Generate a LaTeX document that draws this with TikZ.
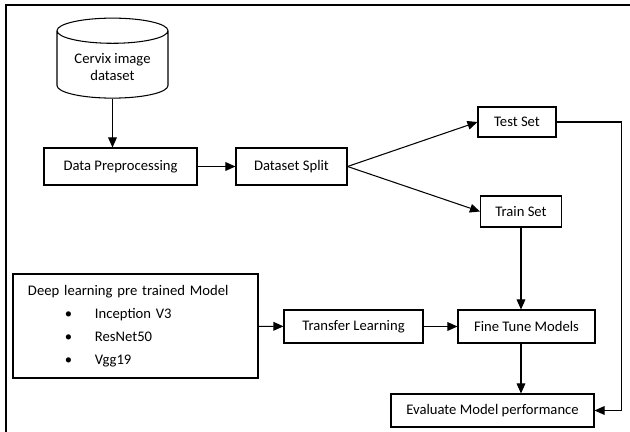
\documentclass[tikz,border=0pt]{standalone}
\usepackage{fontspec}
\setmainfont{Carlito}
\usepackage{tikz}
\usetikzlibrary{arrows.meta}
\usetikzlibrary{shapes.geometric}
\usetikzlibrary{positioning}

\begin{document}
\begin{tikzpicture}[x=0.03cm,y=-0.03cm,
  every node/.style={font=\fontsize{12.5}{15}\selectfont},
  box/.style={draw,line width=0.9pt,inner sep=2pt},
  flow/.style={line width=0.9pt,-{Triangle[length=3mm,width=2.6mm]}}]
  \useasboundingbox (0,0) rectangle (630,432);
  \draw[line width=2pt] (6,432)--(6,5)--(630,5);

  \node (db) at (112.5,67) [draw,line width=0.9pt,cylinder,shape border rotate=90,aspect=0.3,
    minimum width=3.33cm,minimum height=2.4cm,align=center]{Cervix image\\dataset};
  \node (prep) at (120.5,166.5) [box,minimum width=4.59cm,minimum height=1.11cm]{Data Preprocessing};
  \node (split) at (291.5,166.5) [box,minimum width=3.33cm,minimum height=1.11cm]{Dataset Split};
  \node (test) at (517,122) [box,minimum width=2.34cm,minimum height=0.9cm]{Test Set};
  \node (train) at (521,211.5) [box,minimum width=2.43cm,minimum height=0.93cm]{Train Set};
  \node (dl) at (135.5,326) [box,inner xsep=0.45cm,text width=6.45cm,minimum height=3.12cm,align=left,
    font=\fontsize{12.5}{19.6}\selectfont]{Deep learning pre trained Model\\
    \hspace*{1.11cm}\makebox[0.9cm][l]{\textbullet}Inception V3\\
    \hspace*{1.11cm}\makebox[0.9cm][l]{\textbullet}ResNet50\\
    \hspace*{1.11cm}\makebox[0.9cm][l]{\textbullet}Vgg19};
  \node (tl) at (353.5,326.5) [box,minimum width=4.17cm,minimum height=0.99cm]{Transfer Learning};
  \node (fine) at (526.5,326.5) [box,minimum width=4.11cm,minimum height=0.99cm]{Fine Tune Models};
  \node (eval) at (492.5,410.5) [box,minimum width=6.09cm,minimum height=0.99cm]{Evaluate Model performance};

  \draw[flow](db)--(db |- prep.north);
  \draw[flow](prep)--(split);
  \draw[flow](split.east)--(test.west);
  \draw[flow](split.east)--(train.west);
  \draw[flow](train)--(train |- fine.north);
  \draw[flow](dl)--(tl);
  \draw[flow](tl)--(fine);
  \draw[flow](fine.south -| train)--(train |- eval.north);
  \draw[flow](test.east)--++(65,0)|-(eval.east);
\end{tikzpicture}
\end{document}
